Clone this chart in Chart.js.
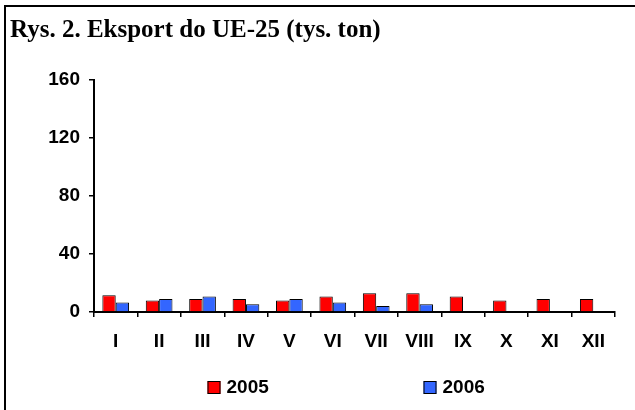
<!DOCTYPE html>
<html>
<head>
<meta charset="utf-8">
<script src="https://cdn.jsdelivr.net/npm/chart.js@4/dist/chart.umd.min.js"></script>
<style>
  html, body { margin: 0; padding: 0; background: #fff; overflow: hidden; }
  canvas { display: block; }
</style>
</head>
<body>
<canvas id="c" width="635" height="410"></canvas>
<script>
const titleText = 'Rys. 2. Eksport do UE-25 (tys. ton)';
const categories = ['I', 'II', 'III', 'IV', 'V', 'VI', 'VII', 'VIII', 'IX', 'X', 'XI', 'XII'];
const seriesLabels = ['2005', '2006'];
const values2005 = [11.5, 7.9, 9.0, 9.0, 7.9, 10.6, 12.9, 12.9, 10.6, 7.9, 9.0, 9.0];
const values2006 = [6.5, 9.0, 10.6, 5.3, 9.0, 6.5, 4.1, 5.3, null, null, null, null];
const yTicks = [0, 40, 80, 120, 160];

const FONT = "'Liberation Sans', Arial, sans-serif";

const framePlugin = {
  id: 'frame',
  beforeDraw(chart) {
    const ctx = chart.ctx;
    ctx.save();
    ctx.fillStyle = '#ffffff';
    ctx.fillRect(0, 0, chart.width, chart.height);
    ctx.fillStyle = '#000000';
    ctx.fillRect(4, 5, chart.width - 4, 2);
    ctx.fillRect(4, 5, 2, chart.height - 5);
    ctx.restore();
  },
  afterDraw(chart) {
    const ctx = chart.ctx;
    ctx.save();
    ctx.fillStyle = '#ffffff';
    ctx.fillRect(chart.width - 6, 7, 6, chart.height - 7);
    ctx.restore();
  }
};

const legendPlugin = {
  id: 'customLegend',
  afterDraw(chart) {
    const ctx = chart.ctx;
    const xs = [207.5, 423.5];
    const yBox = 381;
    ctx.save();
    chart.data.datasets.forEach((ds, i) => {
      ctx.fillStyle = ds.backgroundColor;
      ctx.fillRect(xs[i], yBox, 13, 13);
      ctx.strokeStyle = '#000';
      ctx.lineWidth = 1;
      ctx.strokeRect(xs[i] + 0.5, yBox + 0.5, 12, 12);
      ctx.fillStyle = '#000';
      ctx.font = 'bold 19px ' + FONT;
      ctx.textBaseline = 'middle';
      ctx.textAlign = 'left';
      ctx.fillText(ds.label, xs[i] + 19, yBox + 7);
    });
    ctx.restore();
  }
};

new Chart(document.getElementById('c'), {
  type: 'bar',
  data: {
    labels: categories,
    datasets: [
      { label: seriesLabels[0], data: values2005, backgroundColor: '#ff0000', borderColor: '#000000', borderWidth: 1 },
      { label: seriesLabels[1], data: values2006, backgroundColor: '#3366ff', borderColor: '#000000', borderWidth: 1 }
    ]
  },
  options: {
    responsive: false,
    animation: false,
    devicePixelRatio: 1,
    layout: { padding: { left: 10, right: 20, top: 0, bottom: 0 } },
    datasets: { bar: { categoryPercentage: 0.615, barPercentage: 1 } },
    plugins: {
      legend: { display: false },
      tooltip: { enabled: false },
      title: {
        display: true,
        text: titleText,
        align: 'start',
        color: '#000',
        font: { family: "'Liberation Serif', 'Times New Roman', serif", size: 25, weight: 'bold' },
        padding: { top: 16, bottom: 33.5 }
      }
    },
    scales: {
      x: {
        afterFit(scale) { scale.height = 98; },
        grid: { display: true, drawOnChartArea: false, drawTicks: true, tickLength: 5, color: '#000', lineWidth: 1.5, offset: true },
        border: { display: true, color: '#000', width: 2 },
        ticks: { color: '#000', font: { family: FONT, size: 19, weight: 'bold' }, padding: 13, maxRotation: 0, autoSkip: false }
      },
      y: {
        min: 0,
        max: 160,
        afterFit(scale) { scale.width = 84; },
        afterBuildTicks(scale) { scale.ticks = yTicks.map(v => ({ value: v })); },
        grid: { display: true, drawOnChartArea: false, drawTicks: true, tickLength: 5, color: '#000', lineWidth: 1.5 },
        border: { display: true, color: '#000', width: 2 },
        ticks: { color: '#000', font: { family: FONT, size: 19, weight: 'bold' }, padding: 9 }
      }
    }
  },
  plugins: [framePlugin, legendPlugin]
});
</script>
</body>
</html>
